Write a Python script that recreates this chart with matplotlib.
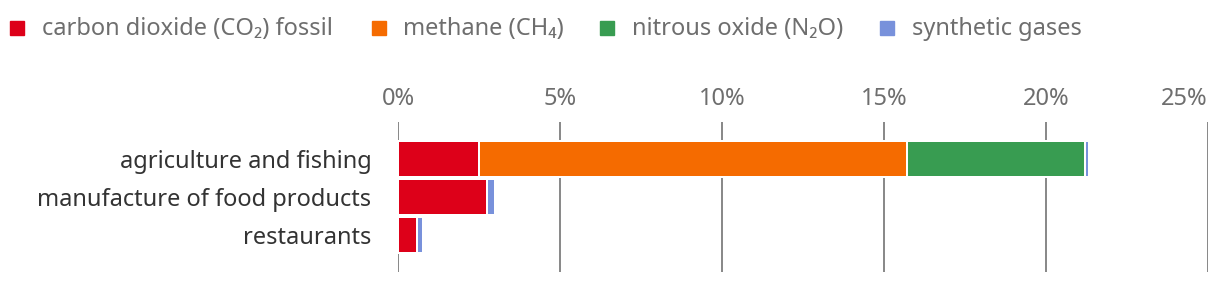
import matplotlib
matplotlib.use("Agg")
import matplotlib.pyplot as plt
from matplotlib.patches import Rectangle
import numpy as np

plt.rcParams['font.family'] = ['Noto Sans', 'DejaVu Sans']

categories = ["agriculture and fishing", "manufacture of food products", "restaurants"]
series_names = ["carbon dioxide (CO₂) fossil", "methane (CH₄)", "nitrous oxide (N₂O)", "synthetic gases"]
co2_fossil = [2.5, 2.75, 0.59]
methane = [13.2, 0.0, 0.0]
nitrous_oxide = [5.5, 0.0, 0.0]
synthetic = [0.12, 0.24, 0.18]
xticks = [0, 5, 10, 15, 20, 25]
xtick_labels = ["0%", "5%", "10%", "15%", "20%", "25%"]

colors = ["#dd0019", "#f56b00", "#389c51", "#7891db"]
FS = 17

W, H = 1220, 284
fig = plt.figure(figsize=(W / 100, H / 100), dpi=100)
ax = fig.add_axes([398 / W, 1 - 272 / H, (1208 - 398) / W, 150 / H])

y = np.arange(len(categories))
left = np.zeros(len(categories))
for vals, col in zip([co2_fossil, methane, nitrous_oxide, synthetic], colors):
    vals = np.array(vals)
    mask = vals > 0
    ax.barh(y[mask], vals[mask], left=left[mask], height=36 / 38, color=col,
            edgecolor="white", linewidth=1.44, zorder=3)
    left += vals

ax.set_xlim(0, 25)
ax.set_ylim(2 + 37 / 38, -37 / 38)
ax.set_xticks(xticks)
ax.set_xticklabels(xtick_labels)
ax.xaxis.tick_top()
ax.grid(axis="x", color="#8a8a8a", linewidth=1.44, zorder=0)
ax.set_yticks(y)
ax.set_yticklabels(categories)
for s in ax.spines.values():
    s.set_visible(False)
ax.tick_params(axis="x", length=0, pad=8, labelsize=FS, labelcolor="#6e6e6e")
ax.tick_params(axis="y", length=0, pad=19, labelsize=FS, labelcolor="#333333")
ax.get_xticklabels()[-1].set_horizontalalignment("right")

# legend
legend_sq_x = [10, 372, 600, 880]
legend_tx_x = [42, 403, 632, 912]
for sx, tx, col, name in zip(legend_sq_x, legend_tx_x, colors, series_names):
    fig.patches.append(Rectangle((sx / W, 1 - 35 / H), 14 / W, 14 / H,
                                 transform=fig.transFigure, color=col))
    fig.text(tx / W, 1 - 29 / H, name, ha="left", va="center",
             fontsize=FS, color="#6e6e6e")

fig.savefig("out.png", dpi=100)
